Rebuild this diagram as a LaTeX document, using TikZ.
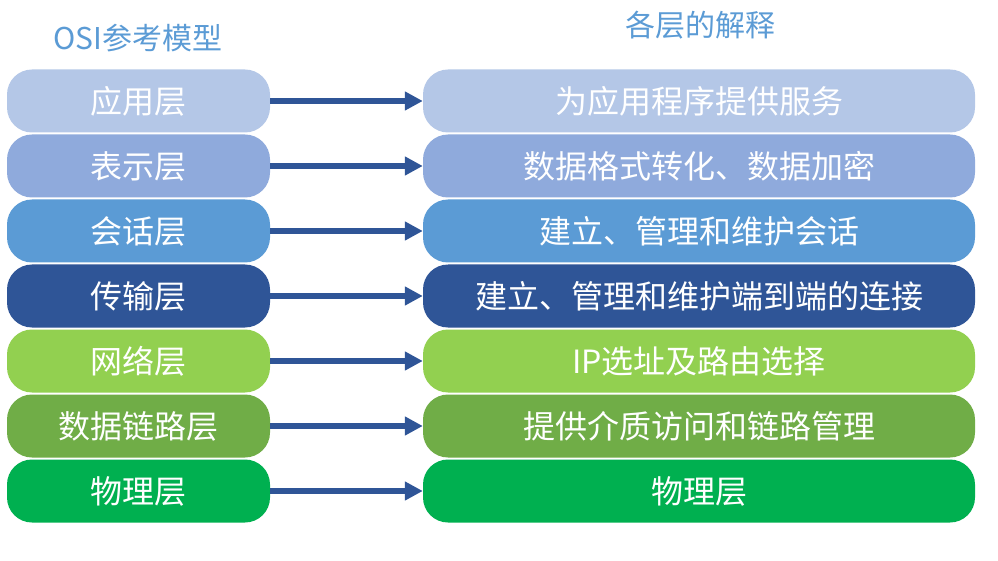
\documentclass[tikz,border=0pt]{standalone}
\usepackage{fontspec}
\setmainfont{Noto Sans CJK SC}
\usetikzlibrary{arrows.meta}
\definecolor{cA}{HTML}{B4C7E7}
\definecolor{cB}{HTML}{8FAADC}
\definecolor{cC}{HTML}{5B9BD5}
\definecolor{cD}{HTML}{2F5597}
\definecolor{cE}{HTML}{92D050}
\definecolor{cF}{HTML}{70AD47}
\definecolor{cG}{HTML}{00B050}
\definecolor{arrc}{HTML}{2F5597}
\definecolor{titlec}{HTML}{5B9BD5}
\tikzset{
  layerbox/.style={rounded corners=25pt, inner sep=0pt, text=white,
    font=\fontsize{32}{34}\selectfont, minimum height=63pt},
  leftbox/.style={layerbox, minimum width=263pt},
  rightbox/.style={layerbox, minimum width=552pt},
  conn/.style={draw=arrc, line width=6pt, -{Triangle[length=18pt,width=18pt]}},
  titletext/.style={text=titlec, font=\fontsize{30}{32}\selectfont}
}
\begin{document}
\begin{tikzpicture}[x=1pt,y=-1pt]
\useasboundingbox (0,0) rectangle (998,561);
\node[titletext] (t1) at (138,38) {OSI参考模型};
\node[titletext] (t2) at (700,25) {各层的解释};
\node[leftbox, fill=cA] (l1) at (138.5,101) {应用层};
\node[leftbox, fill=cB] (l2) at (138.5,166) {表示层};
\node[leftbox, fill=cC] (l3) at (138.5,231) {会话层};
\node[leftbox, fill=cD] (l4) at (138.5,296) {传输层};
\node[leftbox, fill=cE] (l5) at (138.5,361) {网络层};
\node[leftbox, fill=cF] (l6) at (138.5,426) {数据链路层};
\node[leftbox, fill=cG] (l7) at (138.5,491) {物理层};
\node[rightbox, fill=cA] (r1) at (699,101) {为应用程序提供服务};
\node[rightbox, fill=cB] (r2) at (699,166) {数据格式转化、数据加密};
\node[rightbox, fill=cC] (r3) at (699,231) {建立、管理和维护会话};
\node[rightbox, fill=cD] (r4) at (699,296) {建立、管理和维护端到端的连接};
\node[rightbox, fill=cE] (r5) at (699,361) {IP选址及路由选择};
\node[rightbox, fill=cF] (r6) at (699,426) {提供介质访问和链路管理};
\node[rightbox, fill=cG] (r7) at (699,491) {物理层};
\foreach \i in {1,...,7} {
  \draw[conn] (l\i.east) -- (r\i.west);
}
\end{tikzpicture}
\end{document}
